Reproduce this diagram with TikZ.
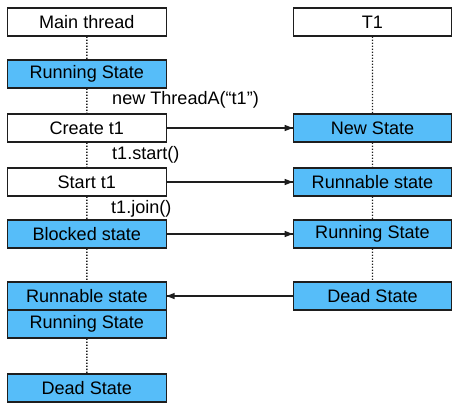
\documentclass[tikz,border=0pt]{standalone}
\usepackage{fontspec}
\setmainfont{Liberation Sans}
\usepackage{tikz}
\definecolor{stateblue}{RGB}{86,189,249}
\definecolor{edge}{RGB}{30,30,30}

\begin{document}
\begin{tikzpicture}[scale=0.35]
\tikzstyle{every node}+=[inner sep=0pt, font=\fontsize{18}{21}\selectfont]
\tikzstyle{plain}=[draw=edge, line width=1.1pt, fill=white, minimum width=5.55cm, minimum height=0.98cm]
\tikzstyle{state}=[plain, fill=stateblue]
\tikzstyle{life}=[edge, line width=1.4pt, dash pattern=on 1.3pt off 1.7pt]
\useasboundingbox (0,0) rectangle (46,-40.7);
% main thread column
\node [plain] (main) at (8.68,-2.2) {Main thread};
\node [state] (mrun) at (8.68,-7.4) {Running State};
\node [plain] (create) at (8.68,-12.8) {Create t1};
\node [plain] (start) at (8.68,-18.2) {Start t1};
\node [state] (blocked) at (8.68,-23.4) {Blocked state};
\node [state] (mrunnable) at (8.68,-29.6) {Runnable state};
\node [state] (mrun2) at (8.68,-32.4) {Running State};
\node [state] (mdead) at (8.68,-38.8) {Dead State};
% t1 column
\node [plain] (t1) at (37.25,-2.2) {T1};
\node [state] (tnew) at (37.25,-12.8) {New State};
\node [state] (trunnable) at (37.25,-18.2) {Runnable state};
\node [state] (trun) at (37.25,-23.4) {Running State};
\node [state] (tdead) at (37.25,-29.6) {Dead State};
% lifelines
\draw [life] (main) -- (mrun);
\draw [life] (mrun) -- (create);
\draw [life] (create) -- (start);
\draw [life] (start) -- (blocked);
\draw [life] (blocked) -- (mrunnable);
\draw [life] (mrun2) -- (mdead);
\draw [life] (t1) -- (tnew);
\draw [life] (tnew) -- (trunnable);
\draw [life] (trunnable) -- (trun);
\draw [life] (trun) -- (tdead);
% calls
\draw [edge, line width=1.1pt] (create.east) -- (tnew.west);
\fill [edge] (tnew.west) -- ++(-0.8,0.32) -- ++(0,-0.64);
\draw [edge, line width=1.1pt] (start.east) -- (trunnable.west);
\fill [edge] (trunnable.west) -- ++(-0.8,0.32) -- ++(0,-0.64);
\draw [edge, line width=1.1pt] (blocked.east) -- (trun.west);
\fill [edge] (trun.west) -- ++(-0.8,0.32) -- ++(0,-0.64);
\draw [edge, line width=1.1pt] (tdead.west) -- (mrunnable.east);
\fill [edge] (mrunnable.east) -- ++(0.8,0.32) -- ++(0,-0.64);
\node [anchor=west] (newlbl) at (11.2,-10.0) {new ThreadA(“t1”)};
\node [anchor=west] (startlbl) at (11.2,-15.5) {t1.start()};
\node [anchor=west] (joinlbl) at (11.1,-20.9) {t1.join()};
\end{tikzpicture}
\end{document}
